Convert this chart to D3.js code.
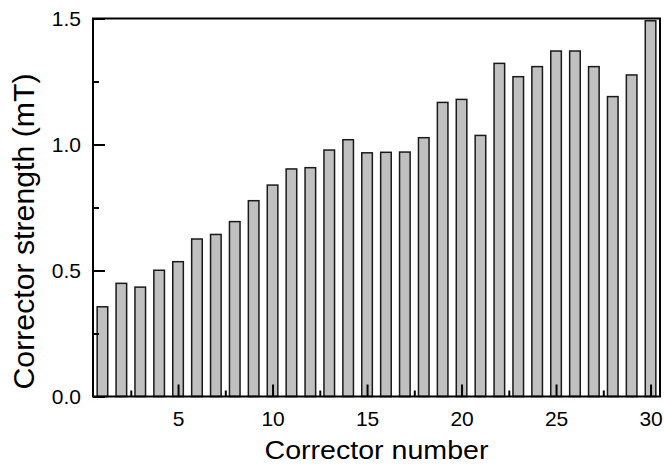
<!DOCTYPE html>
<html>
<head>
<meta charset="utf-8">
<script src="https://cdn.jsdelivr.net/npm/d3@7"></script>
<style>
  body { margin: 0; background: #fff; }
  text { font-family: "Liberation Sans", Arial, sans-serif; fill: #000; }
</style>
</head>
<body>
<div id="chart"></div>
<script>
const correctors = d3.range(1, 31)
const strengths = [0.356, 0.449, 0.434, 0.501, 0.535, 0.625, 0.643, 0.694, 0.777, 0.839,
  0.903, 0.908, 0.978, 1.019, 0.967, 0.969, 0.970, 1.027, 1.167, 1.179,
  1.036, 1.322, 1.269, 1.309, 1.371, 1.371, 1.309, 1.190, 1.276, 1.491]
const yMajor = [0, 0.5, 1.0, 1.5]
const yMinor = [0.25, 0.75, 1.25]
const xMajor = [5, 10, 15, 20, 25, 30]
const xMinor = [2.5, 7.5, 12.5, 17.5, 22.5, 27.5]

const width = 664, height = 464
const margin = {top: 18.5, right: 4, bottom: 67.5, left: 93}
const w = width - margin.left - margin.right,
  h = height - margin.top - margin.bottom

const svg = d3.select('#chart').append('svg')
  .attr('width', width)
  .attr('height', height)

const g = svg.append('g')
  .attr('transform', `translate(${margin.left}, ${margin.top})`)

const x = d3.scaleLinear().domain([0.5, 30.5]).range([0, w])
const y = d3.scaleLinear().domain([0, 1.5]).range([h, 0])
const barW = (x(1) - x(0)) * 0.56

// bars
g.append('g').selectAll('rect')
  .data(strengths)
  .enter().append('rect')
  .attr('x', (d, i) => x(correctors[i]) - barW / 2)
  .attr('y', d => y(d))
  .attr('width', barW)
  .attr('height', d => h - y(d))
  .attr('fill', '#c0c0c0')
  .attr('stroke', '#1a1a1a')
  .attr('stroke-width', 1.5)

// minor ticks
g.append('g')
  .attr('transform', `translate(0, ${h})`)
  .call(d3.axisBottom(x).tickValues(xMinor).tickSize(-6).tickFormat(''))
g.append('g')
  .call(d3.axisLeft(y).tickValues(yMinor).tickSize(-6).tickFormat(''))

// major ticks with labels
g.append('g')
  .attr('transform', `translate(0, ${h})`)
  .attr('class', 'xaxis')
  .call(d3.axisBottom(x).tickValues(xMajor).tickSize(-12).tickPadding(15).tickFormat(d3.format('d')))
g.append('g')
  .attr('class', 'yaxis')
  .call(d3.axisLeft(y).tickValues(yMajor).tickSize(-12).tickPadding(12).tickFormat(d3.format('.1f')))

g.selectAll('.domain').remove()
g.selectAll('.tick line').attr('stroke', '#000').attr('stroke-width', 2)
g.selectAll('.tick text').style('font-size', '21px').attr('fill', '#000')
  .style('font-family', '"Liberation Sans", Arial, sans-serif')

// frame
g.append('rect')
  .attr('x', 0).attr('y', 0)
  .attr('width', w).attr('height', h)
  .attr('fill', 'none')
  .attr('stroke', '#000')
  .attr('stroke-width', 2)

// titles
svg.append('text')
  .attr('x', margin.left + w / 2)
  .attr('y', 459)
  .attr('text-anchor', 'middle')
  .style('font-size', '26px')
  .attr('textLength', 224)
  .attr('lengthAdjust', 'spacingAndGlyphs')
  .text('Corrector number')

svg.append('text')
  .attr('transform', 'translate(33.5, 231.5) rotate(-90)')
  .attr('text-anchor', 'middle')
  .style('font-size', '29px')
  .attr('textLength', 316)
  .attr('lengthAdjust', 'spacingAndGlyphs')
  .text('Corrector strength (mT)')
</script>
</body>
</html>
